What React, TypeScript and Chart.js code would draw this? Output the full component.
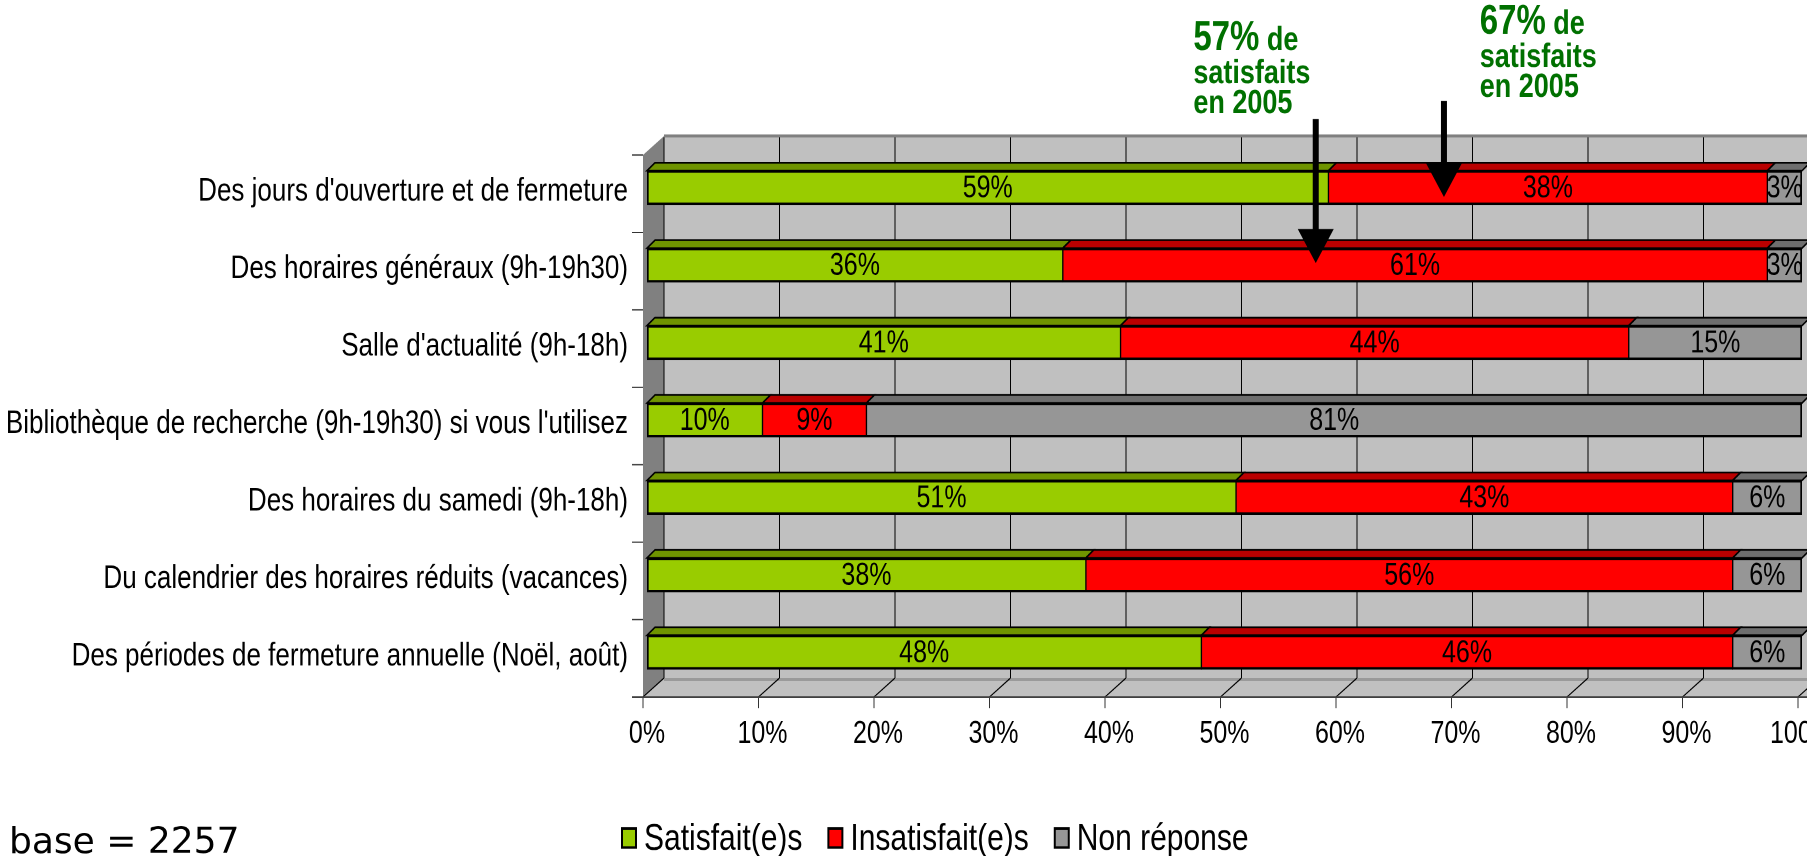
import React, { useEffect, useRef } from "react";
import { Chart, registerables } from "chart.js";

Chart.register(...registerables);

// ---------- data ----------
const categories = [
  "Des jours d'ouverture et de fermeture",
  "Des horaires généraux (9h-19h30)",
  "Salle d'actualité (9h-18h)",
  "Bibliothèque de recherche (9h-19h30) si vous l'utilisez",
  "Des horaires du samedi (9h-18h)",
  "Du calendrier des horaires réduits (vacances)",
  "Des périodes de fermeture annuelle (Noël, août)",
];
const satisfaits = [59, 36, 41, 10, 51, 38, 48];
const insatisfaits = [38, 61, 44, 9, 43, 56, 46];
const nonReponse = [3, 3, 15, 81, 6, 6, 6];
const seriesLabels = ["Satisfait(e)s", "Insatisfait(e)s", "Non réponse"];
const xTickValues = [0, 10, 20, 30, 40, 50, 60, 70, 80, 90, 100];
const notes2005 = ["57%", "67%"];
const noteArrowValues = [57.9, 69.0];
const baseLabel = "base = 2257";

// ---------- styles / layout ----------
const W = 1880; // logical canvas width (clipped to 1807)
const HV = 856; // visible height
const HC = 685; // logical canvas height, stretched vertically to HV
const SY = HV / HC;
const ty = (v: number) => v / SY; // target pixel y -> logical y
const AREA = { left: 647, right: 1802, top: ty(149), bottom: ty(691) };
const seriesColors = ["#99CC00", "#FF0000", "#969696"];
const seriesTopColors = ["#6F9400", "#BA0000", "#6E6E6E"];
const NOTE_GREEN = "#007000";
const FAM = "'Liberation Sans', Arial, sans-serif";

export default function App() {
  const ref = useRef<HTMLCanvasElement | null>(null);

  useEffect(() => {
    if (!ref.current) return;

    const DX = 8, DY = ty(8); // bar top-face depth
    const FX = -4, FY = ty(6), BX = 17, BY = ty(-13); // front/back planes relative to bar plane
    const TICK = ty(11);

    const frame3d = {
      id: "frame3d",
      beforeDatasetsDraw(chart: any) {
        const { ctx } = chart;
        const x = chart.scales.x;
        const { top, bottom } = chart.chartArea;
        const x0 = x.getPixelForValue(0);
        const fTop = top + FY, fBot = bottom + FY;
        const bTop = top + BY, bBot = bottom + BY;
        const fLeft = x0 + FX, bLeft = x0 + BX;
        ctx.save();
        // back wall
        ctx.fillStyle = "#C0C0C0";
        ctx.fillRect(bLeft, bTop, W - bLeft, bBot - bTop);
        ctx.strokeStyle = "#808080";
        ctx.lineWidth = 2.4;
        ctx.beginPath();
        ctx.moveTo(bLeft, bTop);
        ctx.lineTo(W, bTop);
        ctx.stroke();
        // side wall
        ctx.fillStyle = "#808080";
        ctx.beginPath();
        ctx.moveTo(fLeft, fTop);
        ctx.lineTo(bLeft, bTop);
        ctx.lineTo(bLeft, bBot);
        ctx.lineTo(fLeft, fBot);
        ctx.closePath();
        ctx.fill();
        // floor
        ctx.fillStyle = "#C0C0C0";
        ctx.beginPath();
        ctx.moveTo(fLeft, fBot);
        ctx.lineTo(bLeft, bBot);
        ctx.lineTo(W, bBot);
        ctx.lineTo(W, fBot);
        ctx.closePath();
        ctx.fill();
        ctx.strokeStyle = "#9A9A9A";
        ctx.lineWidth = 2.4;
        ctx.beginPath();
        ctx.moveTo(bLeft, bBot + 1.2);
        ctx.lineTo(W, bBot + 1.2);
        ctx.stroke();
        // gridlines, floor diagonals, ticks
        ctx.lineWidth = 1;
        for (const v of xTickValues) {
          const px = x.getPixelForValue(v);
          ctx.strokeStyle = "#000";
          ctx.beginPath();
          ctx.moveTo(px + BX, bTop + 1);
          ctx.lineTo(px + BX, bBot);
          ctx.moveTo(px + FX, fBot);
          ctx.lineTo(px + BX, bBot);
          ctx.stroke();
          ctx.strokeStyle = "#333";
          ctx.beginPath();
          ctx.moveTo(px + FX, fBot);
          ctx.lineTo(px + FX, fBot + TICK);
          ctx.stroke();
        }
        // front floor edge
        ctx.strokeStyle = "#404040";
        ctx.lineWidth = 1.4;
        ctx.beginPath();
        ctx.moveTo(fLeft - 11, fBot);
        ctx.lineTo(W, fBot);
        ctx.stroke();
        // category boundary ticks
        const band = (fBot - fTop) / categories.length;
        ctx.strokeStyle = "#333";
        ctx.lineWidth = 1;
        for (let i = 0; i < categories.length; i++) {
          const yy = fTop + i * band;
          ctx.beginPath();
          ctx.moveTo(fLeft - 11, yy);
          ctx.lineTo(fLeft, yy);
          ctx.stroke();
        }
        ctx.restore();
      },
      afterDatasetsDraw(chart: any) {
        const { ctx } = chart;
        ctx.save();
        // top faces
        chart.data.datasets.forEach((ds: any, di: number) => {
          const meta = chart.getDatasetMeta(di);
          meta.data.forEach((bar: any) => {
            const p = bar.getProps(["x", "y", "base", "height"], true);
            const l = Math.min(p.base, p.x), r = Math.max(p.base, p.x);
            const t = p.y - p.height / 2;
            ctx.beginPath();
            ctx.moveTo(l, t);
            ctx.lineTo(r, t);
            ctx.lineTo(r + DX, t - DY);
            ctx.lineTo(l + DX, t - DY);
            ctx.closePath();
            ctx.fillStyle = seriesTopColors[di];
            ctx.fill();
            ctx.strokeStyle = "#000";
            ctx.lineWidth = 1.4;
            ctx.stroke();
          });
        });
        // value labels
        ctx.fillStyle = "#000";
        ctx.font = `25px ${FAM}`;
        ctx.textAlign = "center";
        ctx.textBaseline = "middle";
        chart.data.datasets.forEach((ds: any, di: number) => {
          const meta = chart.getDatasetMeta(di);
          meta.data.forEach((bar: any, i: number) => {
            const p = bar.getProps(["x", "y", "base"], true);
            ctx.fillText(ds.data[i] + "%", (p.x + p.base) / 2, p.y + 1);
          });
        });
        ctx.restore();
      },
      afterDraw(chart: any) {
        const { ctx } = chart;
        const x = chart.scales.x;
        ctx.save();
        // 2005 notes
        const notes = [
          { text: notes2005[0], left: 47.3, base: 50, arrowTop: 119, arrowTip: 263 },
          { text: notes2005[1], left: 72.1, base: 34, arrowTop: 101, arrowTip: 197 },
        ];
        notes.forEach((n, i) => {
          const tx = x.getPixelForValue(n.left);
          ctx.fillStyle = NOTE_GREEN;
          ctx.textAlign = "left";
          ctx.textBaseline = "alphabetic";
          ctx.font = `bold 33px ${FAM}`;
          ctx.fillText(n.text, tx, ty(n.base));
          const w = ctx.measureText(n.text).width;
          ctx.font = `bold 27px ${FAM}`;
          ctx.fillText(" de", tx + w, ty(n.base));
          ctx.fillText("satisfaits", tx, ty(n.base + 33));
          ctx.fillText("en 2005", tx, ty(n.base + 63));
          // arrow
          const ax = x.getPixelForValue(noteArrowValues[i]);
          const headH = ty(34), headW = 36;
          const top = ty(n.arrowTop), tip = ty(n.arrowTip);
          ctx.fillStyle = "#000";
          ctx.fillRect(ax - 3, top, 6, tip - headH - top + 2);
          ctx.beginPath();
          ctx.moveTo(ax - headW / 2, tip - headH);
          ctx.lineTo(ax + headW / 2, tip - headH);
          ctx.lineTo(ax, tip);
          ctx.closePath();
          ctx.fill();
        });
        // legend
        ctx.font = `30px ${FAM}`;
        ctx.textAlign = "left";
        ctx.textBaseline = "middle";
        let lx = 622;
        const ly = ty(838);
        const bh = ty(19);
        seriesLabels.forEach((lab, i) => {
          ctx.fillStyle = seriesColors[i];
          ctx.fillRect(lx, ly - bh / 2, 14, bh);
          ctx.strokeStyle = "#000";
          ctx.lineWidth = 2;
          ctx.strokeRect(lx, ly - bh / 2, 14, bh);
          ctx.fillStyle = "#000";
          ctx.fillText(lab, lx + 22, ly + 1);
          lx += 22 + ctx.measureText(lab).width + 26;
        });
        // base (not stretched)
        ctx.save();
        ctx.scale(1, 1 / SY);
        ctx.font = "36px 'DejaVu Sans', sans-serif";
        ctx.textBaseline = "alphabetic";
        ctx.fillText(baseLabel, 9, 853);
        ctx.restore();
        ctx.restore();
      },
    };

    const padding = { top: AREA.top, right: W - AREA.right, bottom: 0, left: 0 };
    const chart = new Chart(ref.current, {
      type: "bar",
      data: {
        labels: categories,
        datasets: [
          {
            label: seriesLabels[0],
            data: satisfaits,
            backgroundColor: seriesColors[0],
            borderColor: "#000",
            borderWidth: { top: 2, bottom: 2, left: 2, right: 1 },
            borderSkipped: false,
            barThickness: ty(34),
          },
          {
            label: seriesLabels[1],
            data: insatisfaits,
            backgroundColor: seriesColors[1],
            borderColor: "#000",
            borderWidth: { top: 2, bottom: 2, left: 1, right: 1 },
            borderSkipped: false,
            barThickness: ty(34),
          },
          {
            label: seriesLabels[2],
            data: nonReponse,
            backgroundColor: seriesColors[2],
            borderColor: "#000",
            borderWidth: { top: 2, bottom: 2, left: 1, right: 2 },
            borderSkipped: false,
            barThickness: ty(34),
          },
        ],
      },
      options: {
        indexAxis: "y",
        responsive: false,
        animation: false,
        devicePixelRatio: 2,
        layout: { padding },
        plugins: { legend: { display: false }, tooltip: { enabled: false } },
        scales: {
          x: {
            type: "linear",
            stacked: true,
            min: 0,
            max: 100,
            grid: { display: false, drawTicks: false },
            border: { display: false },
            ticks: {
              stepSize: 10,
              autoSkip: false,
              maxRotation: 0,
              padding: ty(734) - AREA.bottom - 15,
              color: "#000",
              font: { family: FAM, size: 25 },
              callback: (v: any) => v + "%",
            },
            afterFit: (s: any) => {
              s.height = HC - AREA.bottom;
            },
          },
          y: {
            type: "category",
            stacked: true,
            grid: { display: false, drawTicks: false },
            border: { display: false },
            ticks: {
              autoSkip: false,
              padding: 19,
              labelOffset: ty(4),
              color: "#000",
              font: { family: FAM, size: 26 },
            },
            afterFit: (s: any) => {
              s.width = AREA.left;
            },
          },
        },
      },
      plugins: [frame3d],
    } as any);

    // correct any automatic layout padding so the plot area lands where intended
    const ca = chart.chartArea;
    const dr = ca.right - AREA.right;
    const dt = ca.top - AREA.top;
    if (Math.abs(dr) > 0.5 || Math.abs(dt) > 0.5) {
      (chart.options as any).layout.padding = {
        top: padding.top - dt,
        right: padding.right + dr,
        bottom: padding.bottom,
        left: padding.left,
      };
      chart.update();
    }
    return () => chart.destroy();
  }, []);

  return (
    <div
      style={{
        position: "absolute",
        left: 0,
        top: 0,
        width: 1807,
        height: HV,
        overflow: "hidden",
        background: "#fff",
      }}
    >
      <canvas
        ref={ref}
        width={W}
        height={HC}
        style={{
          display: "block",
          width: W,
          height: HC,
          transform: `scaleY(${SY})`,
          transformOrigin: "0 0",
        }}
      />
    </div>
  );
}
